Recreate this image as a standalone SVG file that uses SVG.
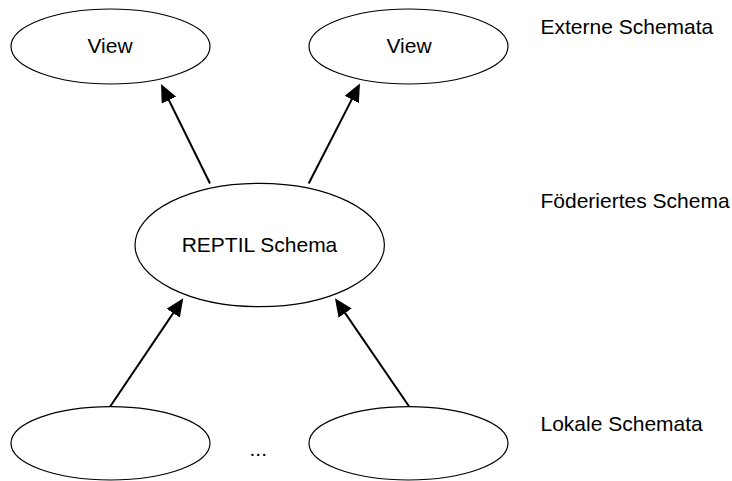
<svg xmlns="http://www.w3.org/2000/svg" width="732" height="481" viewBox="0 0 732 481">
<style>
.node{fill:#fff;stroke:#000;stroke-width:1.2}
.t{font-family:"Liberation Sans",Arial,sans-serif;font-size:21px;fill:#000}
.c{text-anchor:middle}
.edge{stroke:#000;stroke-width:2;fill:none;marker-end:url(#ah)}
</style>
<defs>
<marker id="ah" markerUnits="userSpaceOnUse" markerWidth="18" markerHeight="16" viewBox="0 0 18 16" refX="10" refY="8" orient="auto">
<path d="M0,0 L18,8 L0,16 z" fill="#000"/>
</marker>
</defs>
<rect width="732" height="481" fill="#fff"/>
<g id="connectors">
<line class="edge" x1="210" y1="183.5" x2="164.5" y2="91.2"/>
<line class="edge" x1="308.7" y1="183.5" x2="356.3" y2="90.6"/>
<line class="edge" x1="110" y1="406.7" x2="178.8" y2="304.9"/>
<line class="edge" x1="409.3" y1="406.7" x2="339.5" y2="304.9"/>
</g>
<g id="view1">
<ellipse class="node" cx="110.5" cy="46.5" rx="99.5" ry="37.5"/>
<text class="t c" x="110" y="53.3">View</text>
</g>
<g id="view2">
<ellipse class="node" cx="408.5" cy="46.5" rx="99.5" ry="37.5"/>
<text class="t c" x="409" y="53.3">View</text>
</g>
<g id="reptil">
<ellipse class="node" cx="259.7" cy="245" rx="124.7" ry="61.7"/>
<text class="t c" x="259.5" y="252.3">REPTIL Schema</text>
</g>
<g id="local1">
<ellipse class="node" cx="110.5" cy="443.3" rx="99.5" ry="36.7"/>
</g>
<g id="local2">
<ellipse class="node" cx="408.5" cy="443.3" rx="99.5" ry="36.7"/>
</g>
<text class="t" x="249.5" y="456">...</text>
<text class="t" x="540.5" y="34.3">Externe Schemata</text>
<text class="t" x="540.5" y="207.7">Föderiertes Schema</text>
<text class="t" x="540.5" y="431">Lokale Schemata</text>
</svg>
